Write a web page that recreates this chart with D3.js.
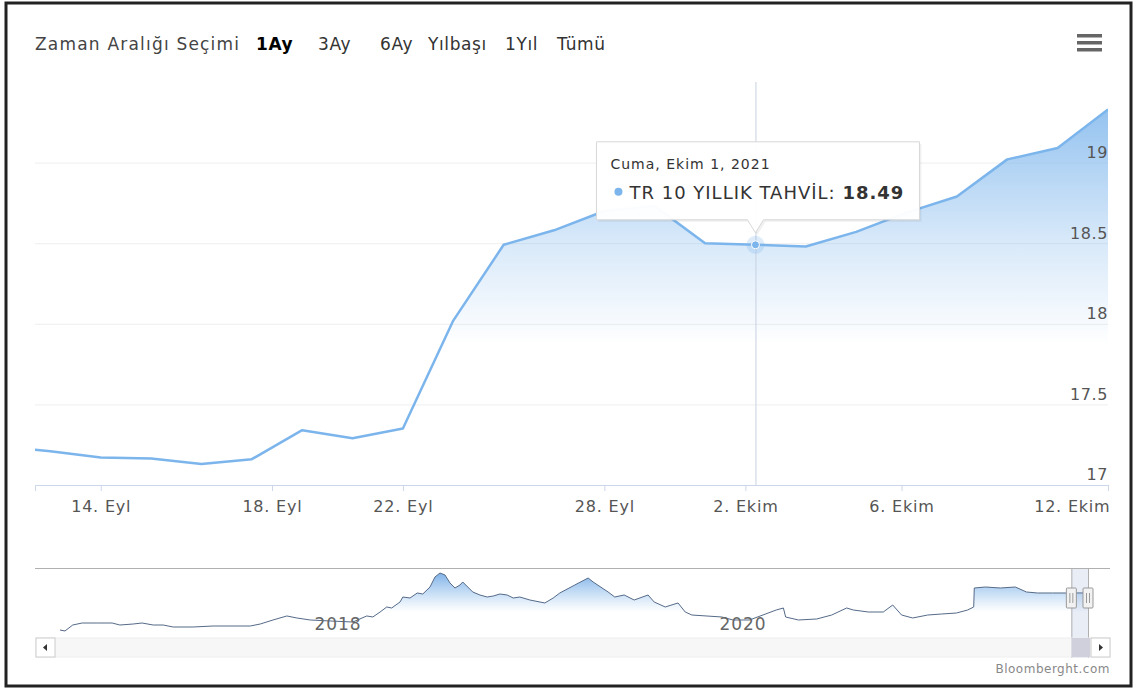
<!DOCTYPE html>
<html>
<head>
<meta charset="utf-8">
<title>TR 10 Yıllık Tahvil</title>
<script src="https://cdn.jsdelivr.net/npm/d3@7"></script>
<style>
  body { margin: 0; background: #fff; }
  svg text { font-family: "DejaVu Sans", sans-serif; }
</style>
</head>
<body>
<svg id="chart" width="1136" height="690"></svg>
<script>
// main series: trading days shown in the 1 month window
var days = ["2021-09-10","2021-09-13","2021-09-14","2021-09-15","2021-09-16","2021-09-17",
            "2021-09-20","2021-09-21","2021-09-22","2021-09-23","2021-09-24",
            "2021-09-27","2021-09-28","2021-09-29","2021-09-30","2021-10-01",
            "2021-10-04","2021-10-05","2021-10-06","2021-10-07","2021-10-08",
            "2021-10-11","2021-10-12"];
var yields = [17.24, 17.21, 17.17, 17.165, 17.13, 17.16,
              17.34, 17.29, 17.35, 18.02, 18.49,
              18.58, 18.70, 18.73, 18.50, 18.49,
              18.48, 18.57, 18.69, 18.79, 19.02,
              19.09, 19.33];

// x axis labels (ordinal axis, position given as point index)
var xTickPos = [2, 5.4, 8, 12, 14.8, 17.9, 22];
var xTickLabels = ["14. Eyl", "18. Eyl", "22. Eyl", "28. Eyl", "2. Ekim", "6. Ekim", "12. Ekim"];
var yTicks = [17, 17.5, 18, 18.5, 19];

var rangeButtons = ["1Ay", "3Ay", "6Ay", "Yılbaşı", "1Yıl", "Tümü"];

// navigator (whole history)
var navDates = ["2016-09-15","2016-09-24","2016-10-08","2016-10-25","2016-11-21","2016-12-18",
  "2017-01-01","2017-01-25","2017-02-10","2017-03-02","2017-03-20","2017-04-07","2017-05-13",
  "2017-06-18","2017-07-24","2017-08-24","2017-09-11","2017-10-04","2017-10-29","2017-11-16",
  "2017-12-10","2018-01-15","2018-02-25","2018-03-22","2018-04-02","2018-04-15","2018-04-27",
  "2018-05-06","2018-05-21","2018-05-26","2018-06-08","2018-06-21","2018-07-01","2018-07-14",
  "2018-07-23","2018-08-01","2018-08-10","2018-08-19","2018-08-28","2018-09-06","2018-09-11",
  "2018-09-20","2018-09-29","2018-10-12","2018-10-25","2018-11-05","2018-11-17","2018-11-30",
  "2018-12-11","2018-12-23","2019-01-10","2019-02-06","2019-02-21","2019-03-05","2019-04-01",
  "2019-04-25","2019-05-04","2019-05-31","2019-06-12","2019-06-29","2019-07-17","2019-08-11",
  "2019-08-22","2019-09-11","2019-10-04","2019-10-17","2019-10-29","2019-12-22","2020-01-11",
  "2020-02-10","2020-03-29","2020-04-11","2020-04-15","2020-05-08","2020-06-10","2020-07-07",
  "2020-08-03","2020-08-15","2020-09-11","2020-10-08","2020-10-25","2020-11-10","2020-11-30",
  "2020-12-27","2021-01-21","2021-02-17","2021-03-09","2021-03-20","2021-03-21","2021-04-10",
  "2021-05-07","2021-06-03","2021-06-23","2021-07-13","2021-08-09","2021-09-01","2021-10-12"];
var navValues = [9.35, 9.08, 10.69, 11.23, 11.23, 11.23,
  10.69, 10.96, 11.23, 10.69, 10.69, 10.15, 10.15,
  10.42, 10.42, 10.42, 10.96, 12.04, 13.12, 12.58,
  12.04, 11.77, 11.50, 13.12, 12.85, 14.19, 15.54,
  15.27, 16.89, 18.23, 17.96, 19.31, 19.04, 20.92,
  23.62, 24.69, 24.15, 22.00, 20.65, 21.46, 22.27,
  20.92, 19.58, 18.77, 18.23, 18.50, 19.04, 18.77,
  17.96, 18.23, 17.42, 16.62, 17.96, 19.31, 21.46,
  23.35, 22.27, 19.58, 18.23, 18.77, 17.42, 18.77,
  16.89, 15.54, 16.62, 14.19, 13.38, 12.85, 12.04,
  12.04, 14.73, 15.27, 12.85, 12.04, 12.31, 13.38,
  15.27, 14.73, 14.19, 14.19, 16.08, 13.38, 12.58,
  13.38, 13.65, 13.92, 14.73, 15.54, 20.65, 20.92,
  20.65, 20.92, 19.58, 19.31, 19.31, 19.31, 19.33];
var navYears = ["2018-01-01", "2020-01-01"];

var hovered = 15; // Cuma, Ekim 1, 2021

var svg = d3.select("#chart");
var parse = d3.timeParse("%Y-%m-%d");
var blue = "#7cb5ec";

var plot = {left: 35, right: 1108, top: 82, bottom: 485};

var x = d3.scaleLinear().domain([0.695, days.length - 1]).range([plot.left, plot.right]);
var y = d3.scaleLinear().domain([17, 19.5]).range([plot.bottom, plot.top]);

var defs = svg.append("defs");
defs.append("clipPath").attr("id", "clip")
  .append("rect").attr("x", plot.left).attr("y", plot.top)
  .attr("width", plot.right - plot.left).attr("height", plot.bottom - plot.top);

var g1 = defs.append("linearGradient").attr("id", "fillMain")
  .attr("gradientUnits", "userSpaceOnUse").attr("x1", 0).attr("x2", 0).attr("y1", 100).attr("y2", 345);
g1.append("stop").attr("offset", 0).attr("stop-color", blue).attr("stop-opacity", 0.85);
g1.append("stop").attr("offset", 0.55).attr("stop-color", blue).attr("stop-opacity", 0.32);
g1.append("stop").attr("offset", 1).attr("stop-color", blue).attr("stop-opacity", 0);

// gridlines
svg.append("g").selectAll("line").data(yTicks).enter().append("line")
  .attr("x1", plot.left).attr("x2", plot.right)
  .attr("y1", function(d) { return y(d) + 0.5; }).attr("y2", function(d) { return y(d) + 0.5; })
  .attr("stroke", "#eeeeee");

// area + line
var pts = yields.map(function(v, i) { return {i: i, v: v}; });
var main = svg.append("g").attr("clip-path", "url(#clip)");
main.append("path").datum(pts)
  .attr("d", d3.area().x(function(d) { return x(d.i); }).y0(plot.bottom).y1(function(d) { return y(d.v); }))
  .attr("fill", "url(#fillMain)");
main.append("path").datum(pts)
  .attr("d", d3.line().x(function(d) { return x(d.i); }).y(function(d) { return y(d.v); }))
  .attr("fill", "none").attr("stroke", blue).attr("stroke-width", 2.5).attr("stroke-linejoin", "round");

// x axis
var xAxis = svg.append("g").attr("transform", "translate(0," + plot.bottom + ")")
  .call(d3.axisBottom(x).tickValues(xTickPos).tickSize(6).tickPadding(10)
    .tickFormat(function(d, i) { return xTickLabels[i]; }));
xAxis.select(".domain").attr("stroke", "#ccd6eb");
xAxis.selectAll(".tick line").attr("stroke", "#ccd6eb");
xAxis.selectAll(".tick text").attr("fill", "#555").attr("font-size", 16)
  .attr("font-family", "DejaVu Sans").attr("letter-spacing", 0.8);
xAxis.selectAll(".tick text").filter(function(d, i) { return i === xTickPos.length - 1; })
  .attr("text-anchor", "end").attr("dx", 2);

// y axis, labels inside on the right
var yAxis = svg.append("g").attr("transform", "translate(" + plot.right + ",0)")
  .call(d3.axisLeft(y).tickValues(yTicks).tickSize(0).tickPadding(0)
    .tickFormat(function(d) { return d3.format("")(d); }));
yAxis.select(".domain").remove();
yAxis.selectAll(".tick text").attr("fill", "#555").attr("font-size", 16)
  .attr("font-family", "DejaVu Sans").attr("dy", "-0.32em").attr("letter-spacing", 0.6);

// crosshair and hovered point
var hx = x(hovered), hy = y(yields[hovered]);
svg.append("line").attr("x1", hx + 0.5).attr("x2", hx + 0.5).attr("y1", plot.top).attr("y2", plot.bottom)
  .attr("stroke", "#c8d0e0").attr("stroke-width", 1);
svg.append("circle").attr("cx", hx).attr("cy", hy).attr("r", 9).attr("fill", blue).attr("opacity", 0.25);
svg.append("circle").attr("cx", hx).attr("cy", hy).attr("r", 4).attr("fill", blue)
  .attr("stroke", "#fff").attr("stroke-width", 1);

// tooltip
var tw = 323, th = 78, tl = hx - 159, tt = hy - 25 - th;
var tipPath = "M" + tl + "," + tt + "h" + tw + "v" + th + "H" + (hx + 8) + "L" + hx + "," + (hy - 12) +
              "L" + (hx - 8) + "," + (tt + th) + "H" + tl + "Z";
var tip = svg.append("g");
tip.append("path").attr("d", tipPath)
  .attr("fill", "#000").attr("opacity", 0.06).attr("transform", "translate(2,2)");
tip.append("path").attr("d", tipPath)
  .attr("fill", "#fff").attr("fill-opacity", 0.97).attr("stroke", "#d8d8d8").attr("stroke-width", 1);
tip.append("text").attr("x", tl + 14).attr("y", tt + 27).attr("font-size", 14).attr("fill", "#333")
  .attr("letter-spacing", 1).text("Cuma, Ekim 1, 2021");
tip.append("circle").attr("cx", tl + 22).attr("cy", tt + 50).attr("r", 4).attr("fill", blue);
var t2 = tip.append("text").attr("x", tl + 33).attr("y", tt + 57).attr("font-size", 18).attr("fill", "#333")
  .attr("letter-spacing", 1);
t2.append("tspan").text("TR 10 YILLIK TAHVİL: ");
t2.append("tspan").attr("font-weight", "bold").text(d3.format(".2f")(yields[hovered]));

// range selector
svg.append("text").attr("x", 35).attr("y", 50).attr("font-size", 17).attr("fill", "#444")
  .attr("letter-spacing", 1.2).text("Zaman Aralığı Seçimi");
var btnX = [256, 318, 380, 428, 505, 557];
svg.append("g").selectAll("text").data(rangeButtons).enter().append("text")
  .attr("x", function(d, i) { return btnX[i]; }).attr("y", 50).attr("font-size", 17)
  .attr("letter-spacing", 0.6)
  .attr("fill", function(d, i) { return i === 0 ? "#000" : "#333"; })
  .attr("font-weight", function(d, i) { return i === 0 ? "bold" : "normal"; })
  .text(function(d) { return d; });

// menu icon
svg.append("g").selectAll("rect").data([0, 1, 2]).enter().append("rect")
  .attr("x", 1077).attr("y", function(d) { return 34 + d * 7; }).attr("width", 25).attr("height", 3.5)
  .attr("fill", "#666");

// navigator
var nav = {left: 35, right: 1110, top: 568, bottom: 636};
var nx = d3.scaleTime().domain([parse("2016-08-01"), parse("2021-10-12")]).range([35, 1088]);
var ny = d3.scaleLinear().domain([8, 25.5]).range([635, 570]);
var navPts = navDates.map(function(d, i) { return {t: parse(d), v: navValues[i]}; });

var g2 = defs.append("linearGradient").attr("id", "fillNav")
  .attr("gradientUnits", "userSpaceOnUse").attr("x1", 0).attr("x2", 0).attr("y1", 572).attr("y2", 612);
g2.append("stop").attr("offset", 0).attr("stop-color", "#5b9be0").attr("stop-opacity", 0.8);
g2.append("stop").attr("offset", 1).attr("stop-color", blue).attr("stop-opacity", 0);

svg.append("path").datum(navPts)
  .attr("d", d3.area().x(function(d) { return nx(d.t); }).y0(nav.bottom).y1(function(d) { return ny(d.v); }))
  .attr("fill", "url(#fillNav)");
svg.append("path").datum(navPts)
  .attr("d", d3.line().x(function(d) { return nx(d.t); }).y(function(d) { return ny(d.v); }))
  .attr("fill", "none").attr("stroke", "#556a88").attr("stroke-width", 1);

// year labels
svg.append("g").selectAll("text").data(navYears).enter().append("text")
  .attr("x", function(d) { return nx(parse(d)) - 8; }).attr("y", 630).attr("font-size", 17)
  .attr("letter-spacing", 1).attr("fill", "#666").text(function(d) { return d.slice(0, 4); });

// outline and handles
var h1 = nx(parse("2021-09-12")), h2 = nx(parse("2021-10-12"));
svg.append("rect").attr("x", h1).attr("y", nav.top).attr("width", h2 - h1).attr("height", 90)
  .attr("fill", "rgba(102,133,194,0.15)");
svg.append("path")
  .attr("d", "M" + nav.left + "," + (nav.top + 0.5) + "H" + nav.right +
        "M" + (h1 + 0.5) + "," + nav.top + "V" + (nav.bottom + 22) +
        "M" + (h2 + 0.5) + "," + nav.top + "V" + (nav.bottom + 22))
  .attr("stroke", "#b0b0b0").attr("fill", "none");
[h1, h2].forEach(function(hpos) {
  var hg = svg.append("g").attr("transform", "translate(" + (hpos - 5) + ",588)");
  hg.append("rect").attr("width", 10).attr("height", 20).attr("rx", 1)
    .attr("fill", "#f2f2f2").attr("stroke", "#999");
  hg.append("path").attr("d", "M3.5,5V15M6.5,5V15").attr("stroke", "#999");
});

// scrollbar
svg.append("rect").attr("x", 36).attr("y", 638).attr("width", 1074).attr("height", 19)
  .attr("fill", "#f7f7f7").attr("stroke", "#eee");
svg.append("rect").attr("x", h1).attr("y", 638).attr("width", h2 - h1 + 2).attr("height", 19)
  .attr("fill", "#cfd0dc");
[[36, -1], [1091, 1]].forEach(function(b) {
  var bg = svg.append("g").attr("transform", "translate(" + b[0] + ",638)");
  bg.append("rect").attr("width", 19).attr("height", 19).attr("fill", "#fff").attr("stroke", "#ccc");
  bg.append("path").attr("d", b[1] < 0 ? "M11,6L7,9.5L11,13Z" : "M8,6L12,9.5L8,13Z").attr("fill", "#333");
});

// credits
svg.append("text").attr("x", 1110).attr("y", 673).attr("text-anchor", "end").attr("font-size", 12)
  .attr("letter-spacing", 0.5).attr("fill", "#888").text("Bloomberght.com");

// frame
svg.append("rect").attr("x", 6).attr("y", 3).attr("width", 1125).attr("height", 683)
  .attr("fill", "none").attr("stroke", "#222").attr("stroke-width", 3);
</script>
</body>
</html>
